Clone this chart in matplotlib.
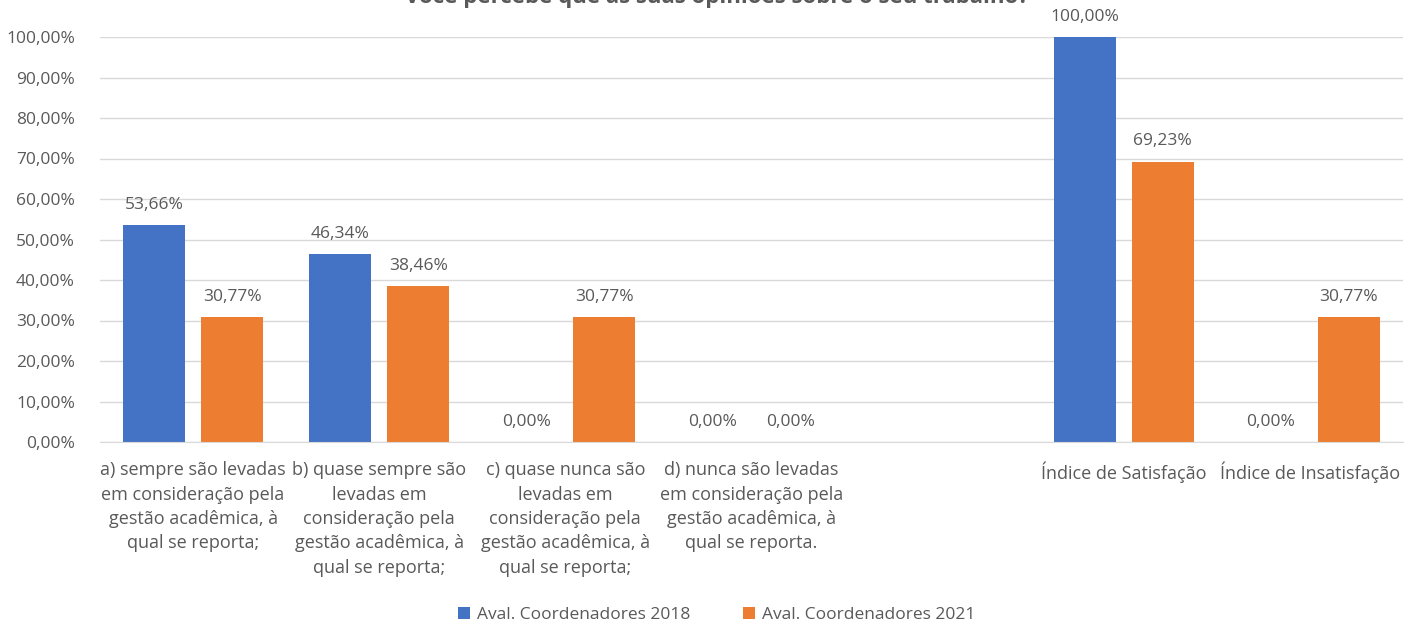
import matplotlib
matplotlib.use("Agg")
import matplotlib.pyplot as plt
import numpy as np

plt.rcParams['font.family'] = ['Open Sans', 'DejaVu Sans']

categories = [
    "a) sempre são levadas\nem consideração pela\ngestão acadêmica, à\nqual se reporta;",
    "b) quase sempre são\nlevadas em\nconsideração pela\ngestão acadêmica, à\nqual se reporta;",
    "c) quase nunca são\nlevadas em\nconsideração pela\ngestão acadêmica, à\nqual se reporta;",
    "d) nunca são levadas\nem consideração pela\ngestão acadêmica, à\nqual se reporta.",
    "",
    "Índice de Satisfação",
    "Índice de Insatisfação",
]
series_names = ["Aval. Coordenadores 2018", "Aval. Coordenadores 2021"]
values_2018 = [53.66, 46.34, 0.00, 0.00, None, 100.00, 0.00]
values_2021 = [30.77, 38.46, 30.77, 0.00, None, 69.23, 30.77]
title = "Você percebe que as suas opiniões sobre o seu trabalho?"

colors = ["#4472C4", "#ED7D31"]
text_color = "#595959"

W, H = 1419, 629
fig = plt.figure(figsize=(W / 100, H / 100), dpi=100)
ax = fig.add_axes([100 / W, 1 - 442 / H, 1303 / W, 405 / H])

x = np.arange(len(categories))
bw = 62 / 186
off = 39 / 186

for vals, sign, col, name in [(values_2018, -1, colors[0], series_names[0]),
                              (values_2021, 1, colors[1], series_names[1])]:
    xs = [xi + sign * off for xi, v in zip(x, vals) if v is not None]
    vs = [v for v in vals if v is not None]
    ax.bar(xs, vs, width=bw, color=col, label=name, zorder=3)
    for xi, v in zip(xs, vs):
        ax.text(xi, v + 3.0, f"{v:.2f}%".replace(".", ","), ha="center", va="bottom",
                fontsize=12.5, color=text_color, clip_on=False)

ax.set_xlim(-0.5, len(categories) - 0.5)
ax.set_ylim(0, 100)
ax.set_yticks(np.arange(0, 101, 10))
ax.set_yticklabels([f"{t:.2f}%".replace(".", ",") for t in np.arange(0, 101, 10)],
                   fontsize=12.5, color=text_color)
ax.set_xticks(x)
ax.set_xticklabels(categories, fontsize=13, color=text_color, linespacing=1.45)
ax.tick_params(axis="both", length=0)
ax.tick_params(axis="y", pad=18)
ax.tick_params(axis="x", pad=14)
ax.grid(axis="y", color="#D9D9D9", linewidth=1, zorder=0)
for s in ["top", "right", "left"]:
    ax.spines[s].set_visible(False)
ax.spines["bottom"].set_color("#D9D9D9")
ax.spines["bottom"].set_zorder(4)

fig.text(0.505, 1 - 3 / H, title, ha="center", va="baseline", fontsize=16,
         fontweight="bold", color=text_color)

leg = fig.legend(loc="center", bbox_to_anchor=(0.505, 1 - 615 / H), ncol=2, frameon=False,
                 fontsize=12.5, handlelength=0.7, handleheight=0.7, handletextpad=0.4,
                 columnspacing=3.0, labelcolor=text_color)

fig.savefig("out.png", dpi=100)
